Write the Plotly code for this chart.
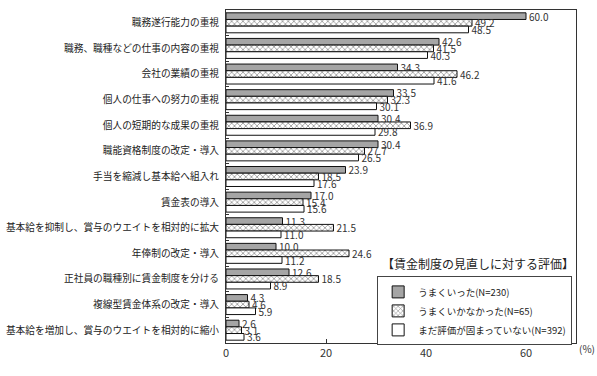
import plotly.graph_objects as go

categories = [
    "職務遂行能力の重視",
    "職務、職種などの仕事の内容の重視",
    "会社の業績の重視",
    "個人の仕事への努力の重視",
    "個人の短期的な成果の重視",
    "職能資格制度の改定・導入",
    "手当を縮減し基本給へ組入れ",
    "賃金表の導入",
    "基本給を抑制し、賞与のウエイトを相対的に拡大",
    "年俸制の改定・導入",
    "正社員の職種別に賃金制度を分ける",
    "複線型賃金体系の改定・導入",
    "基本給を増加し、賞与のウエイトを相対的に縮小",
]
umaku_itta = [60.0, 42.6, 34.3, 33.5, 30.4, 30.4, 23.9, 17.0, 11.3, 10.0, 12.6, 4.3, 2.6]
umaku_ikanakatta = [49.2, 41.5, 46.2, 32.3, 36.9, 27.7, 18.5, 15.4, 21.5, 24.6, 18.5, 4.6, 3.1]
mada_mikakutei = [48.5, 40.3, 41.6, 30.1, 29.8, 26.5, 17.6, 15.6, 11.0, 11.2, 8.9, 5.9, 3.6]
series_names = ["うまくいった(N=230)", "うまくいかなかった(N=65)", "まだ評価が固まっていない(N=392)"]
x_ticks = [0, 20, 40, 60]

FONT = "Noto Sans CJK JP"

fig = go.Figure()
styles = [
    dict(color="#a5a5a5", pattern=dict(shape="")),
    dict(color="white", pattern=dict(shape="x", fgcolor="#222", bgcolor="white", size=4, solidity=0.35)),
    dict(color="white", pattern=dict(shape="")),
]
for name, vals, st in zip(series_names, [umaku_itta, umaku_ikanakatta, mada_mikakutei], styles):
    fig.add_trace(go.Bar(
        y=categories, x=vals, name=name, orientation="h",
        marker=dict(color=st["color"], pattern=st["pattern"], line=dict(color="#111", width=1)),
        text=[f"{v:.1f}" for v in vals], textposition="outside",
        textfont=dict(size=10, color="#333", family=FONT),
        constraintext="none", cliponaxis=False,
    ))

fig.update_layout(
    width=597, height=376,
    margin=dict(l=226, r=21, t=10, b=33, autoexpand=False),
    barmode="group", bargap=0.22, bargroupgap=0,
    plot_bgcolor="white", paper_bgcolor="white",
    font=dict(family=FONT, size=10, color="#222"),
    xaxis=dict(range=[0, 70], tickvals=x_ticks, showgrid=False, zeroline=False,
               showline=True, linecolor="#333", linewidth=1, mirror=True,
               ticks="inside", ticklen=4, tickcolor="#333", automargin=False,
               tickfont=dict(size=11, color="#333")),
    yaxis=dict(autorange="reversed", showgrid=False, showline=True, linecolor="#333",
               linewidth=1, mirror=True, ticks="inside", ticklen=3, tickcolor="#333",
               tickson="boundaries", automargin=False, ticklabelstandoff=4,
               tickfont=dict(size=9.7, color="#222")),
    legend=dict(x=0.989, y=0.2, xanchor="right", yanchor="top",
                bordercolor="#444", borderwidth=1, bgcolor="white",
                font=dict(size=9.5, family=FONT), tracegroupgap=0, itemwidth=30),
    showlegend=True,
    annotations=[
        dict(text="【賃金制度の見直しに対する評価】", xref="paper", yref="paper",
             x=0.44, y=0.206, xanchor="left", yanchor="bottom", showarrow=False,
             font=dict(size=12, family=FONT, color="#222")),
        dict(text="(%)", xref="paper", yref="paper", x=1.03, y=0.012,
             xanchor="center", yanchor="top", showarrow=False,
             font=dict(size=10, family=FONT, color="#333")),
    ],
)
fig.write_html("out.html")
